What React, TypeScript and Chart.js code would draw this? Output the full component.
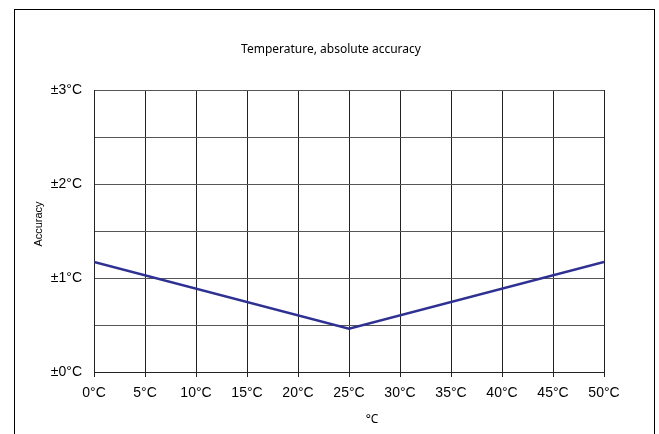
import React, { useEffect, useRef } from 'react';
import { Chart, registerables } from 'chart.js';

Chart.register(...registerables);

// ---- data ----
const temperatures = [0, 25, 50];
const accuracy = [1.17, 0.46, 1.17];
const chartTitle = 'Temperature, absolute accuracy';
const xAxisTitle = '°C';
const yAxisTitle = 'Accuracy';
const xMin = 0;
const xMax = 50;
const xStep = 5;
const yMin = 0;
const yMax = 3;
const yStep = 0.5;

const decorPlugin = {
  id: 'decor',
  afterDraw(chart: any) {
    const ctx = chart.ctx as CanvasRenderingContext2D;
    const a = chart.chartArea;
    ctx.save();
    // outer frame
    ctx.strokeStyle = '#000';
    ctx.lineWidth = 1;
    ctx.strokeRect(14.5, 9.5, 640, 600);
    ctx.fillStyle = '#000';
    ctx.textAlign = 'center';
    ctx.textBaseline = 'middle';
    // title
    ctx.font = '12px "Noto Sans"';
    ctx.fillText(chartTitle, 331, 50);
    // x title
    ctx.font = '12px "Noto Sans"';
    ctx.fillText(xAxisTitle, (a.left + a.right) / 2 + 23, 420);
    // y title
    ctx.font = '11px "Liberation Sans"';
    ctx.translate(39, 224);
    ctx.rotate(-Math.PI / 2);
    ctx.fillText(yAxisTitle, 0, 0);
    ctx.restore();
  },
};

export default function App() {
  const ref = useRef<HTMLCanvasElement | null>(null);
  useEffect(() => {
    if (!ref.current) return;
    const chart = new Chart(ref.current, {
      type: 'line',
      data: {
        datasets: [
          {
            data: temperatures.map((t, i) => ({ x: t, y: accuracy[i] })),
            borderColor: '#2e3192',
            borderWidth: 2.5,
            pointRadius: 0,
            tension: 0,
            fill: false,
          },
        ],
      },
      options: {
        animation: false,
        responsive: false,
        maintainAspectRatio: false,
        layout: { padding: { top: 90, right: 55, left: 0, bottom: 0 } },
        plugins: {
          legend: { display: false },
          tooltip: { enabled: false },
          title: { display: false },
        },
        scales: {
          x: {
            type: 'linear',
            min: xMin,
            max: xMax,
            afterFit: (s: any) => {
              s.height = 62;
            },
            ticks: {
              stepSize: xStep,
              color: '#000',
              padding: 8,
              maxRotation: 0,
              font: { family: '"Liberation Sans", Arial', size: 14 },
              callback: (v: any) => `${v}°C`,
            },
            grid: { color: '#222', lineWidth: 1, tickLength: 5, drawTicks: true },
            border: { color: '#222', width: 1 },
          },
          y: {
            type: 'linear',
            min: yMin,
            max: yMax,
            afterFit: (s: any) => {
              s.width = 94;
            },
            ticks: {
              stepSize: yStep,
              color: '#000',
              padding: 12,
              autoSkip: false,
              font: { family: '"Liberation Sans", Arial', size: 14 },
              callback: (v: any) => (Number.isInteger(v) ? `±${v}°C` : ''),
            },
            grid: { color: '#555', lineWidth: 1, drawTicks: false },
            border: { color: '#222', width: 1 },
          },
        },
      },
      plugins: [decorPlugin],
    });
    return () => chart.destroy();
  }, []);
  return (
    <div style={{ position: 'fixed', left: 0, top: 0, width: 659, height: 434, background: '#fff' }}>
      <canvas ref={ref} width={659} height={434} style={{ display: 'block' }} />
    </div>
  );
}
